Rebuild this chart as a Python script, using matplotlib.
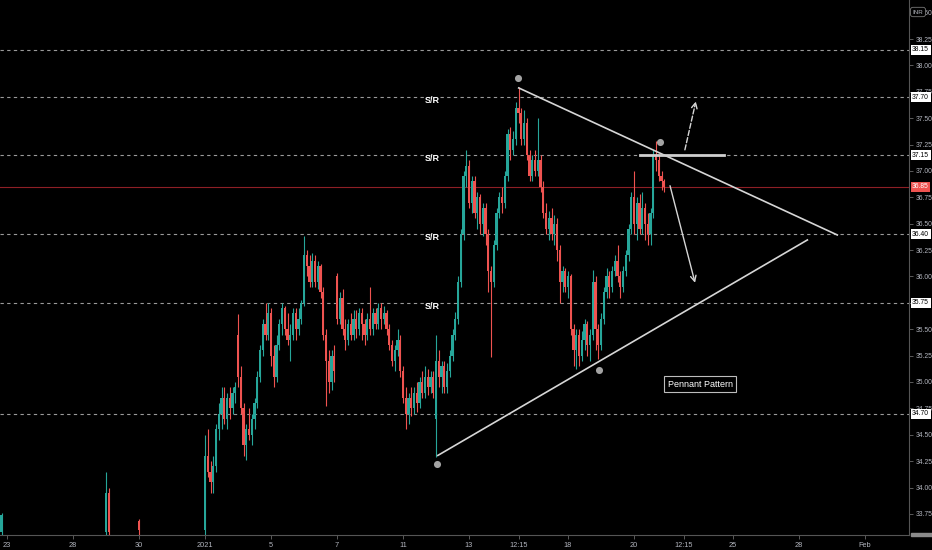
import numpy as np
import matplotlib
matplotlib.use("Agg")
import matplotlib.pyplot as plt
from matplotlib.patches import Rectangle

plt.rcParams['font.family'] = ['Liberation Sans', 'DejaVu Sans']

# a few thin December prints before the January bars
dec_bars = [1, 39, 40, 51]
dec_open = [33.58, 33.58, 33.95, 33.68]
dec_high = [33.76, 34.15, 34.00, 33.70]
dec_low = [33.55, 33.55, 33.55, 33.55]
dec_close = [33.74, 33.95, 33.58, 33.60]

# main run of bars, starting on the 2021 tick
first_bar = 75
opens = [
    33.60, 34.30, 34.15, 34.05, 34.20, 34.55, 34.70, 34.85, 34.65, 34.85, 34.75, 34.90,
    35.45, 35.05, 34.75, 34.40, 34.55, 34.50, 34.65, 34.80, 35.05, 35.30, 35.55, 35.45,
    35.65, 35.25, 35.05, 35.35, 35.55, 35.70, 35.50, 35.40, 35.45, 35.65, 35.50, 35.60,
    35.75, 36.20, 36.10, 35.95, 36.15, 35.95, 36.10, 35.85, 35.45, 35.20, 35.00, 35.25,
    36.00, 35.60, 35.80, 35.50, 35.40, 35.55, 35.45, 35.60, 35.50, 35.65, 35.55, 35.45,
    35.60, 35.50, 35.65, 35.55, 35.70, 35.60, 35.65, 35.50, 35.35, 35.20, 35.30, 35.40,
    35.10, 34.85, 34.70, 34.85, 34.75, 34.90, 34.80, 35.00, 34.90, 35.05, 34.95, 35.05,
    34.65, 35.20, 35.05, 35.15, 34.95, 35.10, 35.25, 35.45, 35.60, 35.95, 36.40, 36.95,
    37.05, 36.70, 36.90, 36.60, 36.75, 36.50, 36.65, 36.40, 36.05, 35.95, 36.30, 36.60,
    36.75, 36.70, 36.95, 37.35, 37.20, 37.30, 37.60, 37.55, 37.30, 37.45, 37.15, 36.95,
    37.10, 37.00, 37.10, 36.85, 36.60, 36.45, 36.55, 36.40, 36.50, 36.25, 35.95, 36.05,
    35.90, 36.00, 35.50, 35.30, 35.45, 35.25, 35.40, 35.55, 35.35, 35.45, 35.95, 35.50,
    35.35, 35.60, 35.85, 36.00, 35.90, 36.05, 36.15, 36.00, 35.90, 36.05, 36.20, 36.45,
    36.75, 36.50, 36.70, 36.45, 36.65, 36.50, 36.40, 36.60, 37.15, 37.10, 36.95, 36.90,
]
highs = [
    34.50, 34.55, 34.25, 34.30, 34.60, 34.80, 34.95, 34.95, 34.90, 34.95, 34.95, 35.00,
    35.64, 35.15, 34.80, 34.60, 34.75, 34.70, 34.85, 35.10, 35.35, 35.60, 35.75, 35.75,
    35.70, 35.35, 35.45, 35.60, 35.75, 35.72, 35.65, 35.55, 35.70, 35.70, 35.70, 35.78,
    36.38, 36.25, 36.20, 36.22, 36.20, 36.15, 36.12, 35.90, 35.50, 35.30, 35.30, 35.35,
    36.03, 35.85, 35.88, 35.60, 35.60, 35.65, 35.68, 35.68, 35.70, 35.70, 35.60, 35.65,
    35.90, 35.70, 35.70, 35.75, 35.75, 35.72, 35.68, 35.55, 35.40, 35.35, 35.50, 35.45,
    35.15, 34.95, 34.90, 34.95, 34.95, 35.00, 35.05, 35.10, 35.15, 35.12, 35.10, 35.10,
    35.45, 35.30, 35.20, 35.20, 35.18, 35.30, 35.50, 35.66, 36.00, 36.45, 37.00, 37.20,
    37.10, 36.95, 36.95, 36.80, 36.78, 36.70, 36.70, 36.45, 36.10, 36.35, 36.65, 36.80,
    36.85, 37.00, 37.40, 37.42, 37.38, 37.65, 37.80, 37.60, 37.58, 37.50, 37.20, 37.15,
    37.20, 37.50, 37.15, 36.90, 36.70, 36.62, 36.65, 36.58, 36.55, 36.30, 36.10, 36.08,
    36.05, 36.02, 35.55, 35.50, 35.50, 35.48, 35.60, 35.58, 35.50, 36.06, 36.00, 35.55,
    35.65, 35.90, 36.08, 36.05, 36.10, 36.20, 36.30, 36.05, 36.10, 36.25, 36.50, 36.80,
    37.00, 36.75, 36.78, 36.80, 36.70, 36.60, 36.65, 37.20, 37.28, 37.15, 37.00, 36.92,
]
lows = [
    33.55, 34.10, 33.95, 33.95, 34.15, 34.45, 34.55, 34.60, 34.55, 34.65, 34.70, 34.80,
    34.95, 34.70, 34.30, 34.26, 34.45, 34.40, 34.55, 34.75, 35.00, 35.25, 35.40, 35.40,
    35.15, 34.95, 35.00, 35.30, 35.45, 35.45, 35.35, 35.20, 35.40, 35.40, 35.45, 35.55,
    35.72, 36.00, 35.90, 35.90, 35.90, 35.88, 35.80, 35.40, 34.77, 34.90, 34.92, 35.00,
    35.55, 35.55, 35.45, 35.30, 35.35, 35.40, 35.40, 35.42, 35.45, 35.40, 35.35, 35.40,
    35.45, 35.45, 35.50, 35.50, 35.50, 35.55, 35.45, 35.30, 35.15, 35.10, 35.25, 35.05,
    34.80, 34.55, 34.60, 34.68, 34.70, 34.72, 34.75, 34.85, 34.85, 34.88, 34.90, 34.85,
    34.29, 34.95, 34.90, 34.90, 34.90, 35.05, 35.20, 35.40, 35.55, 35.90, 36.35, 36.85,
    36.65, 36.60, 36.55, 36.45, 36.40, 36.38, 36.30, 35.85, 35.24, 35.90, 36.25, 36.55,
    36.60, 36.65, 36.90, 37.10, 37.15, 37.25, 37.45, 37.25, 37.25, 37.10, 36.90, 36.90,
    36.95, 36.95, 36.80, 36.55, 36.40, 36.35, 36.35, 36.30, 36.15, 35.75, 35.85, 35.85,
    35.80, 35.45, 35.15, 35.12, 35.15, 35.20, 35.30, 35.25, 35.20, 35.40, 35.30, 35.22,
    35.30, 35.55, 35.80, 35.80, 35.85, 36.00, 35.95, 35.80, 35.85, 36.00, 36.15, 36.40,
    36.40, 36.35, 36.40, 36.40, 36.35, 36.30, 36.30, 36.55, 37.00, 36.90, 36.82, 36.80,
]
closes = [
    34.30, 34.15, 34.05, 34.20, 34.55, 34.70, 34.85, 34.65, 34.85, 34.75, 34.90, 34.95,
    35.05, 34.75, 34.40, 34.55, 34.50, 34.65, 34.80, 35.05, 35.30, 35.55, 35.45, 35.65,
    35.25, 35.05, 35.35, 35.55, 35.70, 35.50, 35.40, 35.45, 35.65, 35.50, 35.60, 35.75,
    36.20, 36.10, 35.95, 36.15, 35.95, 36.10, 35.85, 35.45, 35.20, 35.00, 35.25, 35.10,
    35.60, 35.80, 35.50, 35.40, 35.55, 35.45, 35.60, 35.50, 35.65, 35.55, 35.45, 35.60,
    35.50, 35.65, 35.55, 35.70, 35.60, 35.65, 35.50, 35.35, 35.20, 35.30, 35.40, 35.10,
    34.85, 34.70, 34.85, 34.75, 34.90, 34.80, 35.00, 34.90, 35.05, 34.95, 35.05, 34.90,
    35.20, 35.05, 35.15, 34.95, 35.10, 35.25, 35.45, 35.60, 35.95, 36.40, 36.95, 37.05,
    36.70, 36.90, 36.60, 36.75, 36.50, 36.65, 36.40, 36.05, 35.95, 36.30, 36.60, 36.75,
    36.70, 36.95, 37.35, 37.20, 37.30, 37.60, 37.55, 37.30, 37.45, 37.15, 36.95, 37.10,
    37.00, 37.10, 36.85, 36.60, 36.45, 36.55, 36.40, 36.50, 36.25, 35.95, 36.05, 35.90,
    36.00, 35.50, 35.30, 35.45, 35.25, 35.40, 35.55, 35.35, 35.45, 35.95, 35.50, 35.35,
    35.60, 35.85, 36.00, 35.90, 36.05, 36.15, 36.00, 35.90, 36.05, 36.20, 36.45, 36.75,
    36.50, 36.70, 36.45, 36.65, 36.50, 36.40, 36.60, 37.15, 37.10, 36.95, 36.90, 36.85,
]

# support / resistance levels and last price
sr_levels = [38.15, 37.70, 37.15, 36.40, 35.75, 34.70]
sr_tagged = [37.70, 37.15, 36.40, 35.75]
last_price = 36.85

# pennant drawing (bar, price)
upper_trend = [(188.8, 37.79), (305.2, 36.39)]
lower_trend = [(159.4, 34.30), (294.3, 36.35)]
breakout_line = [(233.2, 37.15), (263.7, 37.15)]
pivot_bars = [188.8, 240.5, 218.3, 159.4]
pivot_prices = [37.88, 37.27, 35.11, 34.22]
arrow_down = [(244.1, 36.86), (253.2, 35.94)]
arrow_up = [(249.5, 37.20), (253.5, 37.66)]

tick_bars = [3, 27, 51, 75, 99, 123, 147, 171, 189, 207, 231, 249, 267, 291, 315]
tick_labels = ['23', '28', '30', '2021', '5', '7', '11', '13', '12:15', '18', '20',
               '12:15', '25', '28', 'Feb']
price_ticks = np.arange(33.75, 38.51, 0.25)

UP, DOWN = '#26a69a', '#ef5350'
TXT = '#b2b5be'
AXIS_SIZE = 4.9

fig = plt.figure(figsize=(9.32, 5.5), dpi=100, facecolor='black')
ax = fig.add_axes([0, 15 / 550, 909 / 932, 535 / 550], facecolor='black')

bars = np.array(dec_bars + list(range(first_bar, first_bar + len(closes))), dtype=float)
o = np.array(dec_open + opens)
h = np.array(dec_high + highs)
l = np.array(dec_low + lows)
c = np.array(dec_close + closes)
colors = np.where(c >= o, UP, DOWN)

ax.vlines(bars, l, h, colors=colors, lw=0.8, zorder=3)
body_lo = np.minimum(o, c)
body_h = np.maximum(np.abs(c - o), 0.01)
ax.bar(bars, body_h, bottom=body_lo, width=0.8, color=colors, linewidth=0, zorder=4)

box_kw = dict(transform=ax.get_yaxis_transform(), fontsize=AXIS_SIZE,
              va='center', ha='left', zorder=10, clip_on=False)
for lvl in sr_levels:
    ax.axhline(lvl, color='#9a9a9a', lw=0.8, ls=(0, (3, 3)), zorder=1)
    ax.text(1.0035, lvl, f'{lvl:.2f}', color='black',
            bbox=dict(facecolor='white', edgecolor='none', pad=1.1), **box_kw)
for lvl in sr_tagged:
    ax.text(157.5, lvl - 0.03, 'S/R', color='white', fontsize=6.5, fontweight='bold',
            ha='center', va='center', zorder=6)

ax.axhline(last_price, color='#8e1f25', lw=0.8, zorder=2)
ax.text(1.0035, last_price, f'{last_price:.2f}', color='white',
        bbox=dict(facecolor=DOWN, edgecolor='none', pad=1.1), **box_kw)

line_kw = dict(color='#d6d6d6', lw=1.2, zorder=5, solid_capstyle='butt')
for seg in (upper_trend, lower_trend):
    ax.plot([p[0] for p in seg], [p[1] for p in seg], **line_kw)
ax.plot([p[0] for p in breakout_line], [p[1] for p in breakout_line],
        color='#cfcfcf', lw=2.0, zorder=5)
ax.scatter(pivot_bars, pivot_prices, s=26, color='#a3a3a3', zorder=7, linewidths=0)

ax.annotate('', xy=arrow_down[1], xytext=arrow_down[0], zorder=6,
            arrowprops=dict(arrowstyle='->', color='#d6d6d6', lw=1.0,
                            shrinkA=0, shrinkB=0))
ax.annotate('', xy=arrow_up[1], xytext=arrow_up[0], zorder=6,
            arrowprops=dict(arrowstyle='->', color='#d6d6d6', lw=1.0, ls='--',
                            shrinkA=0, shrinkB=0))

ax.text(255, 34.98, 'Pennant Pattern', color='white', fontsize=6.5, ha='center',
        va='center', zorder=8,
        bbox=dict(facecolor='black', edgecolor='#bdbdbd', lw=0.8, boxstyle='square,pad=0.35'))

ax.set_xlim(0.45, 331)
ax.set_ylim(33.55, 38.62)

# the 35.75 tick sits right under its level tag, so leave its label blank
ax.yaxis.tick_right()
ax.set_yticks(price_ticks)
ax.set_yticklabels(['' if any(abs(v - s) < 1e-6 for s in sr_levels) else f'{v:.2f}'
                    for v in price_ticks])
ax.tick_params(axis='y', colors='#6a6a6a', labelcolor=TXT, labelsize=AXIS_SIZE,
               length=3, width=0.6, pad=1.5)
ax.set_xticks(tick_bars)
ax.set_xticklabels(tick_labels)
ax.tick_params(axis='x', colors='#6a6a6a', labelcolor=TXT, labelsize=5.3,
               length=3, width=0.6, pad=2)

for side in ('top', 'left'):
    ax.spines[side].set_visible(False)
for side in ('bottom', 'right'):
    ax.spines[side].set_color('#555555')
    ax.spines[side].set_linewidth(0.8)

fig.text(918 / 932, 1 - 12 / 550, 'INR', color=TXT, fontsize=4.5, ha='center', va='center',
         bbox=dict(facecolor='black', edgecolor='#777777', lw=0.6,
                   boxstyle='round,pad=0.35,rounding_size=0.4'))
fig.patches.append(Rectangle((911 / 932, 14 / 550), 21 / 932, 3 / 550,
                             transform=fig.transFigure, color='#8a8a8a'))

fig.savefig('out.png', dpi=100, facecolor='black')
